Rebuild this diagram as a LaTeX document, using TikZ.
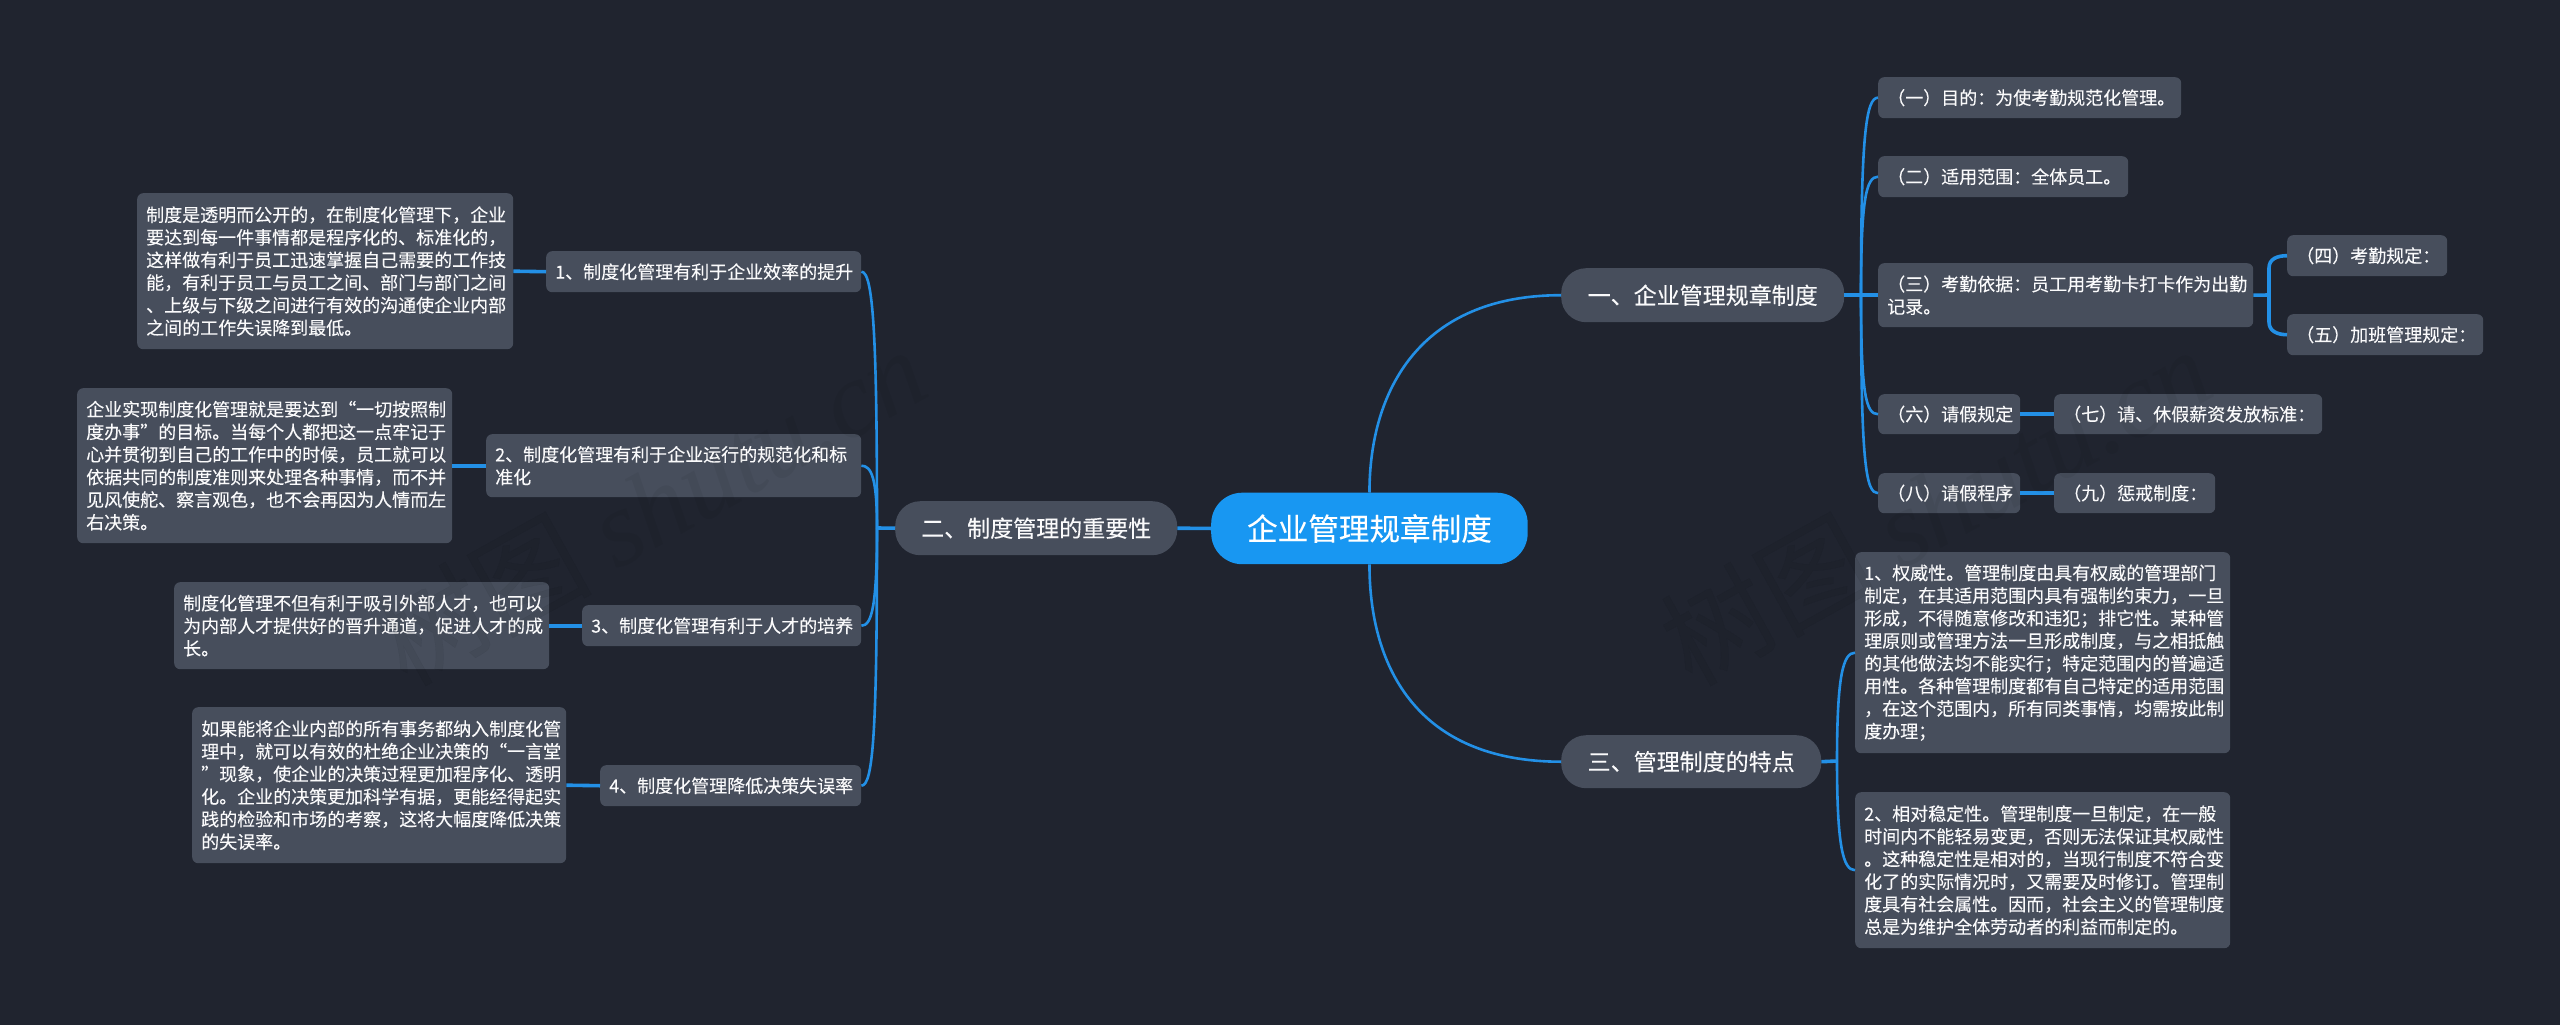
\documentclass[tikz,border=0pt]{standalone}
\usepackage{fontspec}
\setmainfont[FakeBold=0.12]{Noto Sans CJK SC}
\newfontfamily\wmlatin{Liberation Serif}
\definecolor{bgc}{HTML}{20242F}
\definecolor{boxc}{HTML}{474E5C}
\definecolor{rootc}{HTML}{1897F2}
\definecolor{linec}{HTML}{2390E6}
\definecolor{txtc}{HTML}{FAFAFB}
\tikzset{
  tbox/.style={draw=none,fill=boxc,rounded corners=6pt,anchor=north west,inner xsep=9pt,inner ysep=0pt,
    text=txtc,align=left,font=\fontsize{18}{22.6}\selectfont},
  pill/.style={draw=none,fill=boxc,rounded corners=25pt,anchor=north west,inner sep=0pt,text=txtc,align=center,
    font=\fontsize{23}{28}\selectfont},
  rootbox/.style={draw=none,fill=rootc,rounded corners=31pt,anchor=north west,inner sep=0pt,text=white,align=center,
    font=\fontsize{30.6}{36}\selectfont},
  thin link/.style={draw=linec,line width=2.6pt},
  thick link/.style={draw=linec,line width=3.6pt},
  wm/.style={text=black,text opacity=.05,rotate=29,inner sep=0pt,font=\fontsize{108}{116}\itshape\selectfont}
}
% name, x0, y0, x1, y1, text
\newcommand{\tb}[6]{\node[tbox,minimum width={(#4-#2)*1pt},minimum height={(#5-#3)*1pt},text width={(#4-#2-18)*1pt}] (#1) at (#2,#3) {#6};}
\newcommand{\pl}[6]{\node[pill,minimum width={(#4-#2)*1pt},minimum height={(#5-#3)*1pt}] (#1) at (#2,#3) {#6};}
\begin{document}
\begin{tikzpicture}[x=1pt,y=-1pt]
\useasboundingbox[fill=bgc] (0,0) rectangle (2560,1025);
% root and main branches
\node[rootbox,minimum width=316.5pt,minimum height=71.5pt] (root) at (1211,492.5) {企业管理规章制度};
\pl{p1}{1561}{268}{1844}{322}{一、企业管理规章制度}
\pl{p2}{895}{501}{1177}{555}{二、制度管理的重要性}
\pl{p3}{1561}{735}{1821}{788}{三、管理制度的特点}
% right top
\tb{a1}{1878}{77}{2181}{118}{（一）目的：为使考勤规范化管理。}
\tb{a2}{1878}{156}{2128}{197}{（二）适用范围：全体员工。}
\tb{a3}{1878}{263}{2253}{327}{（三）考勤依据：员工用考勤卡打卡作为出勤\\记录。}
\tb{a4}{2287}{235}{2447}{276}{（四）考勤规定：}
\tb{a5}{2287}{314}{2483}{355}{（五）加班管理规定：}
\tb{a6}{1878}{394}{2020}{434}{（六）请假规定}
\tb{a7}{2054}{394}{2322}{434}{（七）请、休假薪资发放标准：}
\tb{a8}{1878}{473}{2020}{513}{（八）请假程序}
\tb{a9}{2054}{473}{2215}{513}{（九）惩戒制度：}
% right bottom
\tb{c1}{1855}{552}{2230}{753}{1、权威性。管理制度由具有权威的管理部门\\制定，在其适用范围内具有强制约束力，一旦\\形成，不得随意修改和违犯；排它性。某种管\\理原则或管理方法一旦形成制度，与之相抵触\\的其他做法均不能实行；特定范围内的普遍适\\用性。各种管理制度都有自己特定的适用范围\\，在这个范围内，所有同类事情，均需按此制\\度办理；}
\tb{c2}{1855}{792}{2230}{948}{2、相对稳定性。管理制度一旦制定，在一般\\时间内不能轻易变更，否则无法保证其权威性\\。这种稳定性是相对的，当现行制度不符合变\\化了的实际情况时，又需要及时修订。管理制\\度具有社会属性。因而，社会主义的管理制度\\总是为维护全体劳动者的利益而制定的。}
% left
\tb{s1}{546}{251}{861}{292}{1、制度化管理有利于企业效率的提升}
\tb{s2}{486}{434}{861}{497}{2、制度化管理有利于企业运行的规范化和标\\准化}
\tb{s3}{582}{605}{861}{646}{3、制度化管理有利于人才的培养}
\tb{s4}{600}{765}{861}{806}{4、制度化管理降低决策失误率}
\tb{d1}{137}{193}{513}{349}{制度是透明而公开的，在制度化管理下，企业\\要达到每一件事情都是程序化的、标准化的，\\这样做有利于员工迅速掌握自己需要的工作技\\能，有利于员工与员工之间、部门与部门之间\\、上级与下级之间进行有效的沟通使企业内部\\之间的工作失误降到最低。}
\tb{d2}{77}{388}{452}{543}{企业实现制度化管理就是要达到“一切按照制\\度办事”的目标。当每个人都把这一点牢记于\\心并贯彻到自己的工作中的时候，员工就可以\\依据共同的制度准则来处理各种事情，而不并\\见风使舵、察言观色，也不会再因为人情而左\\右决策。}
\tb{d3}{174}{582}{549}{669}{制度化管理不但有利于吸引外部人才，也可以\\为内部人才提供好的晋升通道，促进人才的成\\长。}
\tb{d4}{192}{707}{566}{863}{如果能将企业内部的所有事务都纳入制度化管\\理中，就可以有效的杜绝企业决策的“一言堂\\”现象，使企业的决策过程更加程序化、透明\\化。企业的决策更加科学有据，更能经得起实\\践的检验和市场的考察，这将大幅度降低决策\\的失误率。}
% junctions
\coordinate (j1) at (1861,295);
\coordinate (j2) at (877,528);
\coordinate (j3) at (1837,761);
\coordinate (j4) at (2269,295);
% root links
\draw[thin link] (root.north) .. controls +(0,-102) and +(-141,0) .. (p1.west);
\draw[thin link] (root.south) .. controls +(0,106) and +(-141,0) .. (p3.west);
\draw[thick link] (root.west) -- (p2.east);
% branch 1
\draw[thick link] (p1.east) -- (a3.west);
\draw[thin link] (j1) .. controls +(0,-160) and +(-12,0) .. (a1.west);
\draw[thin link] (j1) .. controls +(0,-95) and +(-12,0) .. (a2.west);
\draw[thin link] (j1) .. controls +(0,100) and +(-12,0) .. (a6.west);
\draw[thin link] (j1) .. controls +(0,170) and +(-12,0) .. (a8.west);
\draw[thick link] (a3.east) -- (j4);
\draw[thick link] (j4) -- ++(0,-27) .. controls +(0,-9) and +(-10,0) .. (a4.west);
\draw[thick link] (j4) -- ++(0,27) .. controls +(0,9) and +(-10,0) .. (a5.west);
\draw[thick link] (a6.east) -- (a7.west);
\draw[thick link] (a8.east) -- (a9.west);
% branch 3
\draw[thick link] (p3.east) -- (j3);
\draw[thin link] (j3) .. controls +(0,-85) and +(-12,0) .. (c1.west);
\draw[thin link] (j3) .. controls +(0,85) and +(-12,0) .. (c2.west);
% branch 2
\draw[thick link] (p2.west) -- (j2);
\draw[thin link] (j2) .. controls +(0,-190) and +(12,0) .. (s1.east);
\draw[thin link] (j2) .. controls +(0,-50) and +(10,0) .. (s2.east);
\draw[thin link] (j2) .. controls +(0,80) and +(10,0) .. (s3.east);
\draw[thin link] (j2) .. controls +(0,200) and +(12,0) .. (s4.east);
\draw[thick link] (s1.west) -- (d1.east);
\draw[thick link] (s2.west) -- (d2.east);
\draw[thick link] (s3.west) -- (d3.east);
\draw[thick link] (s4.west) -- (d4.east);
% watermark
\node[wm] (w1) at (650,505) {树图 {\wmlatin shutu.cn}};
\node[wm] (w2) at (1935,505) {树图 {\wmlatin shutu.cn}};
\end{tikzpicture}
\end{document}
